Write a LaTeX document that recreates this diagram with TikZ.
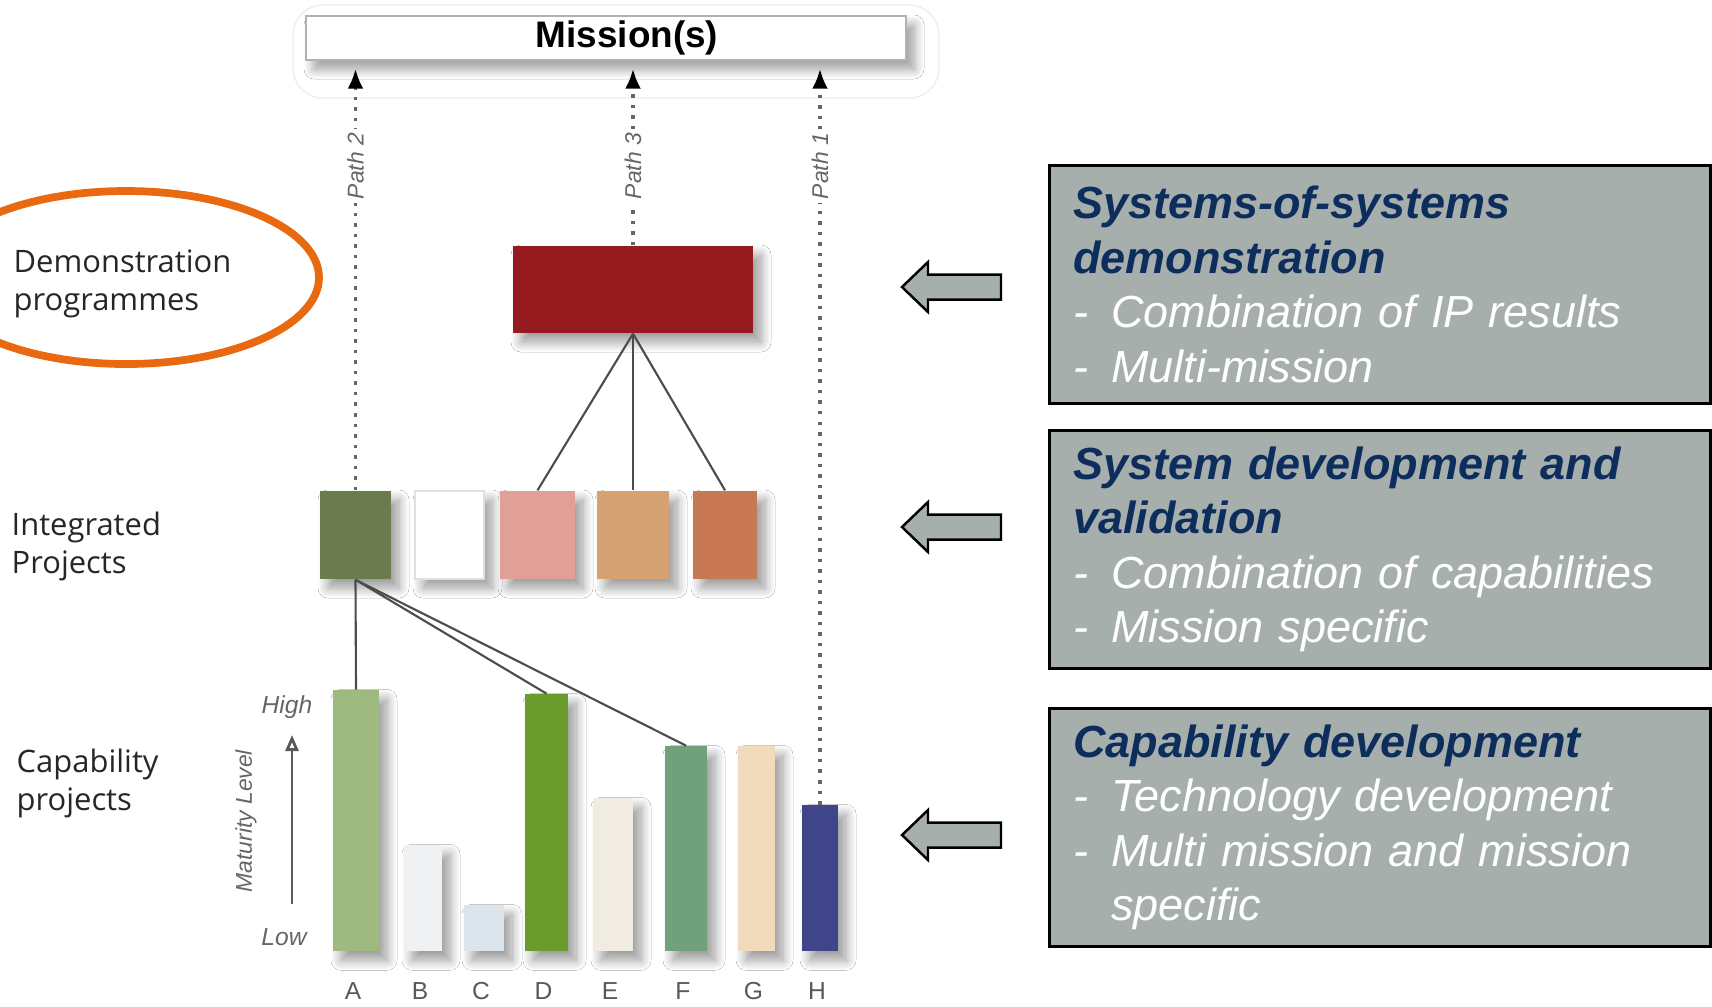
\documentclass[tikz,border=0pt]{standalone}
\usepackage{fontspec}
\setmainfont{Liberation Sans}
\newfontfamily\labelfont{Open Sans}
\usepackage{xcolor}
\usetikzlibrary{positioning}
\usetikzlibrary{arrows.meta}
\usetikzlibrary{shadows.blur}

\definecolor{demored}{HTML}{951B1F}
\definecolor{ipgreen}{HTML}{6B7B4E}
\definecolor{ippink}{HTML}{E0A097}
\definecolor{iptan}{HTML}{D6A274}
\definecolor{iprust}{HTML}{C97855}
\definecolor{barA}{HTML}{9EBA80}
\definecolor{barB}{HTML}{F0F1F3}
\definecolor{barC}{HTML}{DDE5EC}
\definecolor{barD}{HTML}{6A9B2D}
\definecolor{barE}{HTML}{F0ECE1}
\definecolor{barF}{HTML}{71A07C}
\definecolor{barG}{HTML}{F2DABC}
\definecolor{barH}{HTML}{3F4588}
\definecolor{panelgrey}{HTML}{A7AFAD}
\definecolor{headblue}{HTML}{0D2E5C}
\definecolor{circleorange}{HTML}{E8690F}

\newcommand{\dashitem}[1]{\makebox[0.38cm][l]{-}#1}

\tikzset{
	softshadow/.style={blur shadow={shadow xshift=0.08cm, shadow yshift=-0.09cm, shadow blur radius=0.1cm, shadow blur steps=16, shadow opacity=40}},
	ipbox/.style={minimum height=0.88cm, inner sep=0pt, softshadow},
	bar/.style={anchor=south, inner sep=0pt, softshadow},
	pathlink/.style={dotted, line width=1pt, black!60, shorten >=0.08cm, -{Latex[length=0.2cm, width=0.16cm, black]}},
	pathlabel/.style={rotate=90, fill=white, inner sep=1pt, text=black!60, font=\itshape\fontsize{6.5}{7}\selectfont},
	treelink/.style={line width=0.6pt, black!70},
	axislabel/.style={text=black!60, inner sep=0pt, font=\itshape\fontsize{7}{8}\selectfont},
	barlabel/.style={text=black!65, inner sep=0pt, font=\fontsize{7}{8}\selectfont},
	sidelabel/.style={anchor=west, align=left, inner sep=0pt, text=black!85, font=\labelfont\fontsize{8.8}{10.8}\selectfont},
	panel/.style={draw=black, line width=0.8pt, fill=panelgrey, minimum width=6.61cm, minimum height=2.38cm, text width=6.13cm, inner xsep=0.24cm, align=left, anchor=north west, font=\itshape\fontsize{12.8}{15.5}\selectfont},
	blockarrow/.style={draw=black, line width=0.7pt, fill=panelgrey, line join=miter}
}

\begin{document}
\begin{tikzpicture}
	\useasboundingbox (0,0) rectangle (17.12,-10.06);
	\fill[white] (0,0) rectangle (17.12,-10.06);

	\draw[black!7, rounded corners=0.3cm] (2.93,-0.05) rectangle (9.39,-0.98);
	\node[draw=black!30, fill=white, minimum width=6cm, minimum height=0.44cm, inner sep=0pt, font=\bfseries\fontsize{10.5}{12}\selectfont, softshadow] (mission) at (6.06,-0.38) {\hspace*{0.42cm}Mission(s)};

	\node[fill=demored, minimum width=2.4cm, minimum height=0.87cm, inner sep=0pt, softshadow] (demo) at (6.33,-2.895) {};

	\node[ipbox, fill=ipgreen, minimum width=0.71cm] (ip1) at (3.555,-5.35) {};
	\node[ipbox, fill=white, draw=black!12, minimum width=0.69cm] (ip2) at (4.495,-5.35) {};
	\node[ipbox, fill=ippink, minimum width=0.75cm] (ip3) at (5.375,-5.35) {};
	\node[ipbox, fill=iptan, minimum width=0.72cm] (ip4) at (6.33,-5.35) {};
	\node[ipbox, fill=iprust, minimum width=0.64cm] (ip5) at (7.25,-5.35) {};

	\foreach \n/\x/\w/\h in {A/3.56/0.46/2.61, B/4.23/0.38/1.06, C/4.84/0.40/0.46, D/5.465/0.43/2.57, E/6.13/0.40/1.53, F/6.86/0.42/2.05, G/7.565/0.37/2.05, H/8.20/0.36/1.46}
	{
		\node[bar, fill=bar\n, minimum width=\w cm, minimum height=\h cm] (bar\n) at (\x,-9.52) {};
		\node[barlabel] (lab\n) at (\x-0.03,-9.91) {\n};
	}

	\foreach \t in {ip3,ip4,ip5}
		\draw[treelink] (demo.south) -- (\t.north);
	\foreach \t in {barA,barD,barF}
		\draw[treelink] (ip1.south) -- (\t.north);

	\draw[pathlink] (ip1.north) -- (ip1.north |- mission.south);
	\draw[pathlink] (demo.north) -- (demo.north |- mission.south);
	\draw[pathlink] (barH.north) -- (barH.north |- mission.south);
	\node[pathlabel] (path2) at (3.555,-1.66) {Path 2};
	\node[pathlabel] (path3) at (6.33,-1.66) {Path 3};
	\node[pathlabel] (path1) at (8.20,-1.66) {Path 1};

	\node[axislabel] (high) at (2.87,-7.07) {High};
	\node[axislabel] (low) at (2.84,-9.37) {Low};
	\coordinate (mlbot) at (2.92,-9.04);
	\coordinate (mltop) at (2.92,-7.35);
	\draw[black!65, line width=0.8pt, -{Triangle[open, length=0.16cm, width=0.13cm]}] (mlbot) -- (mltop);
	\node[axislabel, rotate=90, font=\itshape\fontsize{6.5}{7}\selectfont] (maturity) at (2.46,-8.21) {Maturity Level};

	\node[sidelabel] (demolab) at (0.13,-2.84) {Demonstration\\programmes};
	\node[sidelabel] (iplab) at (0.11,-5.46) {Integrated\\Projects};
	\node[sidelabel] (caplab) at (0.16,-7.83) {Capability\\projects};
	\draw[circleorange, line width=2.2pt] (1.26,-2.775) ellipse (1.93 and 0.865);

	\foreach \y in {2.87,5.27,8.35}
		\draw[blockarrow] (9.02,-\y) -- ++(0.26,0.25) -- ++(0,-0.125) -- ++(0.73,0) -- ++(0,-0.25) -- ++(-0.73,0) -- ++(0,-0.125) -- cycle;

	\node[panel] (sos) at (10.48,-1.64) {\textcolor{headblue}{\bfseries Systems-of-systems\\demonstration}\\\color{white}\dashitem{Combination of IP results}\\\dashitem{Multi-mission}};
	\node[panel] (sysdev) at (10.48,-4.29) {\textcolor{headblue}{\bfseries System development and\\validation}\\\color{white}\dashitem{Combination of capabilities}\\\dashitem{Mission specific}};
	\node[panel] (capdev) at (10.48,-7.07) {\textcolor{headblue}{\bfseries Capability development}\\\color{white}\dashitem{Technology development}\\\dashitem{Multi mission and mission}\\\hspace*{0.38cm}specific};
\end{tikzpicture}
\end{document}
